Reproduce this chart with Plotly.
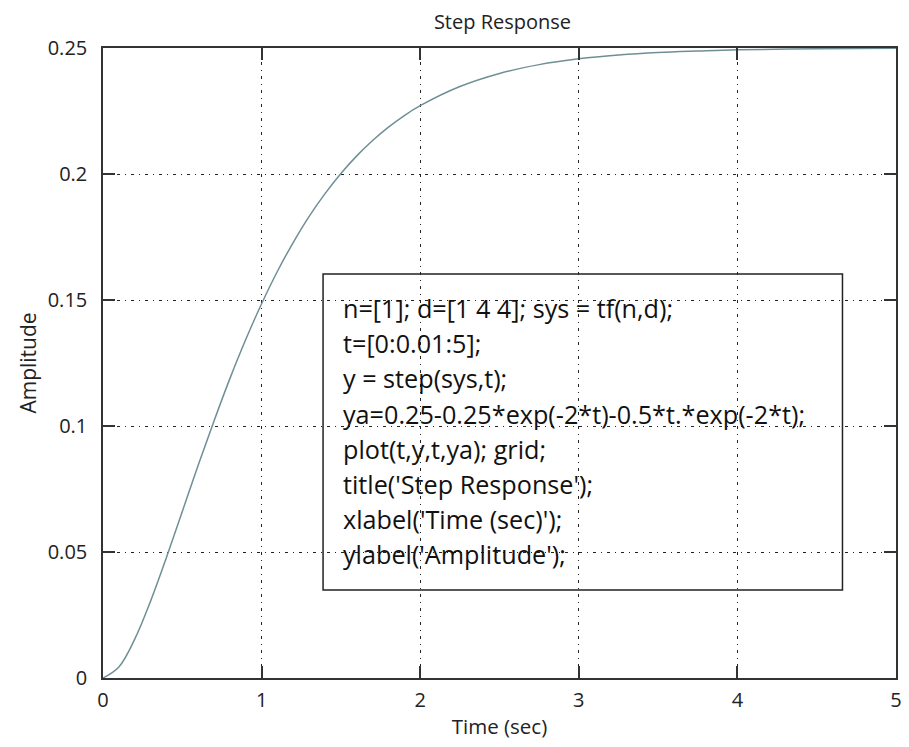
import plotly.graph_objects as go

# Data
t_vals = [0, 0.1, 0.2, 0.3, 0.4, 0.5, 0.6, 0.7, 0.8, 0.9, 1.0, 1.1, 1.2, 1.3, 1.4,
          1.5, 1.6, 1.7, 1.8, 1.9, 2.0, 2.25, 2.5, 2.75, 3.0, 3.25, 3.5, 3.75, 4.0, 4.5, 5.0]
amp_vals = [0.0, 0.0044, 0.0154, 0.0305, 0.0478, 0.0661, 0.0844, 0.1020, 0.1188, 0.1343,
            0.1485, 0.1614, 0.1729, 0.1832, 0.1922, 0.2002, 0.2072, 0.2133, 0.2186, 0.2232,
            0.2271, 0.2347, 0.2399, 0.2434, 0.2457, 0.2472, 0.2482, 0.2488, 0.2493, 0.2497, 0.2499]
x_ticks = [0, 1, 2, 3, 4, 5]
y_ticks = [0, 0.05, 0.1, 0.15, 0.2, 0.25]
y_tick_labels = ["0", "0.05", "0.1", "0.15", "0.2", "0.25"]
code_lines = [
    "n=[1]; d=[1 4 4]; sys = tf(n,d);",
    "t=[0:0.01:5];",
    "y = step(sys,t);",
    "ya=0.25-0.25*exp(-2*t)-0.5*t.*exp(-2*t);",
    "plot(t,y,t,ya); grid;",
    "title('Step Response');",
    "xlabel('Time (sec)');",
    "ylabel('Amplitude');",
]
box_x = [1.3875, 4.6625]
box_y = [0.0349, 0.1603]

W, H = 909, 747
L, R, T, B = 103, 7, 48, 69
FONT = "Open Sans"
TXT = "#222222"

fig = go.Figure()
fig.add_trace(go.Scatter(x=t_vals, y=amp_vals, mode="lines", line_shape="spline",
                         line=dict(color="#6f8f96", width=1.5), showlegend=False))

grid = dict(showgrid=True, gridcolor="#222222", gridwidth=1.3, griddash="3px,5px,1px,5px",
            showline=True, linecolor="#333333", linewidth=1.5, mirror="ticks",
            ticks="inside", ticklen=12, tickwidth=1.5, tickcolor="#333333",
            zeroline=False, tickfont=dict(family=FONT, size=20, color=TXT))

fig.update_layout(
    width=W, height=H,
    margin=dict(l=L, r=R, t=T, b=B),
    paper_bgcolor="white", plot_bgcolor="white",
    title=dict(text="Step Response", x=(L + (W - R - L) / 2) / W, xanchor="center",
               y=1 - 22 / H, yanchor="middle",
               font=dict(family=FONT, size=20, color=TXT)),
    xaxis=dict(range=[0, 5], tickvals=x_ticks, ticktext=[str(v) for v in x_ticks],
               ticklabelstandoff=3,
               title=dict(text="Time (sec)", font=dict(family=FONT, size=20.5, color=TXT),
                          standoff=8), **grid),
    yaxis=dict(range=[0, 0.25], tickvals=y_ticks, ticktext=y_tick_labels,
               ticklabelstandoff=10,
               title=dict(text="Amplitude", font=dict(family=FONT, size=21, color=TXT),
                          standoff=5), **grid),
)

fig.add_shape(type="rect", xref="x", yref="y", x0=box_x[0], x1=box_x[1], y0=box_y[0], y1=box_y[1],
              line=dict(color="#222222", width=1.5), fillcolor="rgba(0,0,0,0)")

pw, ph = W - L - R, H - T - B
for i, line in enumerate(code_lines):
    py = 308 + i * 35.2
    fig.add_annotation(text=line, xref="paper", yref="paper",
                       x=(343 - L) / pw, y=(H - B - py) / ph,
                       xanchor="left", yanchor="middle", showarrow=False,
                       font=dict(family=FONT, size=25.2, color="#111111"))

fig.write_html("out.html", config={"displayModeBar": False},
               post_script="document.body.style.margin='0';")
